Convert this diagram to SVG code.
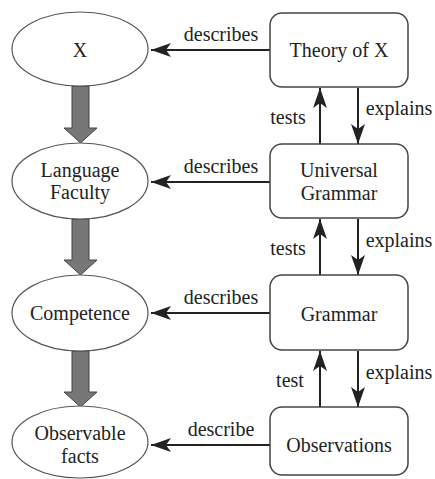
<svg xmlns="http://www.w3.org/2000/svg" width="435" height="479" viewBox="0 0 435 479">
<defs>
<marker id="ah" viewBox="0 0 20 14" refX="20" refY="7" markerWidth="20" markerHeight="14" markerUnits="userSpaceOnUse" orient="auto">
<path d="M0,0 L20,7 L0,14 L5,7 Z" fill="#222"/>
</marker>
</defs>
<g id="connectors">
<g fill="#777" stroke="#444" stroke-width="1">
<path d="M72,86 H89 V128 H97 L80.5,143 L64,128 H72 Z"/>
<path d="M72,219 H89 V260 H97 L80.5,275 L64,260 H72 Z"/>
<path d="M72,351 H89 V392 H97 L80.5,407 L64,392 H72 Z"/>
</g>
<g stroke="#222" stroke-width="2" fill="none" marker-end="url(#ah)">
<line x1="270" y1="50" x2="151" y2="50"/>
<line x1="270" y1="182" x2="151" y2="182"/>
<line x1="270" y1="313" x2="151" y2="313"/>
<line x1="270" y1="445" x2="151" y2="445"/>
<line x1="320" y1="144" x2="320" y2="88"/>
<line x1="358" y1="88" x2="358" y2="144"/>
<line x1="320" y1="275" x2="320" y2="219"/>
<line x1="358" y1="219" x2="358" y2="275"/>
<line x1="320" y1="407" x2="320" y2="351"/>
<line x1="358" y1="351" x2="358" y2="407"/>
</g>
<g font-family="Liberation Serif" font-size="20" fill="#222" text-anchor="middle">
<text x="221" y="41">describes</text>
<text x="221" y="173">describes</text>
<text x="221" y="304">describes</text>
<text x="221" y="436">describe</text>
<text x="288" y="124">tests</text>
<text x="399" y="115">explains</text>
<text x="288" y="255">tests</text>
<text x="399" y="247">explains</text>
<text x="290" y="387">test</text>
<text x="399" y="379">explains</text>
</g>
</g>
<g font-family="Liberation Serif" font-size="20" fill="#222" text-anchor="middle">
<g id="n-x"><ellipse cx="80" cy="49" rx="68" ry="37" fill="#fff" stroke="#555" stroke-width="1.2"/><text x="80" y="57">X</text></g>
<g id="n-lf"><ellipse cx="80" cy="181" rx="68" ry="38" fill="#fff" stroke="#555" stroke-width="1.2"/><text x="80" y="177">Language</text><text x="80" y="199">Faculty</text></g>
<g id="n-comp"><ellipse cx="80" cy="313" rx="68" ry="38" fill="#fff" stroke="#555" stroke-width="1.2"/><text x="80" y="320">Competence</text></g>
<g id="n-obs"><ellipse cx="80" cy="442" rx="68" ry="36" fill="#fff" stroke="#555" stroke-width="1.2"/><text x="80" y="440">Observable</text><text x="80" y="463">facts</text></g>
<g id="n-theory"><rect x="270" y="13" width="138" height="74" rx="12" fill="#fff" stroke="#444" stroke-width="1.5"/><text x="339" y="57">Theory of X</text></g>
<g id="n-ug"><rect x="270" y="144" width="138" height="74" rx="12" fill="#fff" stroke="#444" stroke-width="1.5"/><text x="339" y="177">Universal</text><text x="339" y="200">Grammar</text></g>
<g id="n-gram"><rect x="270" y="275" width="138" height="75" rx="12" fill="#fff" stroke="#444" stroke-width="1.5"/><text x="339" y="321">Grammar</text></g>
<g id="n-obsv"><rect x="270" y="407" width="138" height="68" rx="12" fill="#fff" stroke="#444" stroke-width="1.5"/><text x="339" y="452">Observations</text></g>
</g>
</svg>
